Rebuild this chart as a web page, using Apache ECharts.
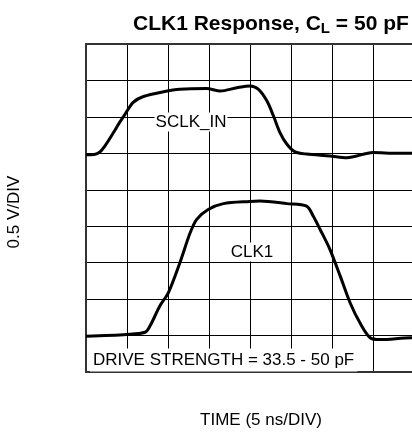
<!DOCTYPE html>
<html>
<head>
<meta charset="utf-8">
<script src="https://cdn.jsdelivr.net/npm/echarts@6/dist/echarts.min.js"></script>
<style>
  html, body { margin: 0; padding: 0; background: #fff; }
  #chart { width: 412px; height: 434px; }
</style>
</head>
<body>
<div id="chart"></div>
<script>
// time in divisions (5 ns/DIV), voltage in divisions (0.5 V/DIV)
const sclkX = [0, 0.2, 0.34, 0.49, 0.67, 0.82, 0.95, 1.15, 1.4, 1.89, 2.29, 2.94, 3.27, 3.68, 4.0, 4.2, 4.41, 4.57, 4.73, 4.9, 5.1, 5.38, 5.95, 6.36, 7.0, 7.58, 8.2]
const sclkY = [5.96, 5.97, 6.04, 6.25, 6.57, 6.85, 7.07, 7.4, 7.56, 7.69, 7.76, 7.78, 7.71, 7.8, 7.85, 7.76, 7.44, 7.03, 6.57, 6.25, 6.04, 5.98, 5.93, 5.88, 6.02, 6.0, 6.0]
const clkX = [0, 0.99, 1.44, 1.56, 1.8, 2.01, 2.29, 2.54, 2.7, 2.98, 3.35, 4.0, 4.24, 4.9, 5.38, 5.54, 5.71, 5.95, 6.2, 6.44, 6.68, 6.93, 7.17, 7.94, 8.2]
const clkY = [0.98, 1.03, 1.09, 1.26, 1.81, 2.18, 3.0, 3.82, 4.19, 4.46, 4.62, 4.68, 4.69, 4.62, 4.55, 4.28, 3.91, 3.36, 2.63, 1.9, 1.35, 0.94, 0.89, 0.94, 0.94]

// the scope screen is cut off at the right edge of the picture
const xMax = 7.95

const font = 'Liberation Sans, Arial, sans-serif'

function pairs(xs, ys) {
  return xs.map((x, i) => [x, ys[i]])
}

function textEl(text, x, y, style, rotation) {
  return {
    type: 'text',
    z: 100,
    x: x,
    y: y,
    rotation: rotation || 0,
    style: Object.assign({
      text: text,
      font: '17px ' + font,
      fill: '#000',
      align: 'center',
      verticalAlign: 'middle'
    }, style || {})
  }
}

const chart = echarts.init(document.getElementById('chart'))

chart.setOption({
  animation: false,
  title: {
    left: 128,
    top: 8,
    text: '{a|CLK1 Response, C}{s|L}{a| = 50 pF}',
    textStyle: {
      rich: {
        a: { fontFamily: font, fontWeight: 'bold', fontSize: 21, color: '#000' },
        s: { fontFamily: font, fontWeight: 'bold', fontSize: 15, color: '#000', verticalAlign: 'bottom', padding: [8, 0, 0, 0] }
      }
    }
  },
  grid: {
    left: 86,
    top: 44,
    right: 0,
    height: 328
  },
  xAxis: [{
    type: 'value',
    min: 0,
    max: xMax,
    interval: 1,
    axisLine: { show: true, onZero: false, lineStyle: { color: '#333', width: 2 } },
    axisTick: { show: false },
    axisLabel: { show: false },
    splitLine: { lineStyle: { color: '#000', width: 1 } }
  }, {
    type: 'value',
    position: 'top',
    min: 0,
    max: xMax,
    interval: 1,
    axisLine: { show: true, onZero: false, lineStyle: { color: '#333', width: 2 } },
    axisTick: { show: false },
    axisLabel: { show: false },
    splitLine: { show: false }
  }],
  yAxis: {
    type: 'value',
    min: 0,
    max: 9,
    interval: 1,
    axisLine: { show: true, onZero: false, lineStyle: { color: '#333', width: 2 } },
    axisTick: { show: false },
    axisLabel: { show: false },
    splitLine: { lineStyle: { color: '#000', width: 1 } }
  },
  series: [{
    name: 'SCLK_IN',
    type: 'line',
    data: pairs(sclkX, sclkY),
    showSymbol: false,
    smooth: 0.3,
    lineStyle: { color: '#000', width: 3 }
  }, {
    name: 'CLK1',
    type: 'line',
    data: pairs(clkX, clkY),
    showSymbol: false,
    smooth: 0.3,
    lineStyle: { color: '#000', width: 3 }
  }],
  graphic: [
    // in-plot labels sit on white boxes that hide the graticule
    textEl('SCLK_IN', 191, 122, { backgroundColor: '#fff', padding: [1, 1] }),
    textEl('CLK1', 252, 252, { backgroundColor: '#fff', padding: [1, 1] }),
    textEl('DRIVE STRENGTH = 33.5 - 50 pF', 90, 360, { align: 'left', backgroundColor: '#fff', padding: [3, 3] }),
    textEl('0.5 V/DIV', 14, 212, null, Math.PI / 2),
    textEl('TIME (5 ns/DIV)', 261, 420)
  ]
})
</script>
</body>
</html>
